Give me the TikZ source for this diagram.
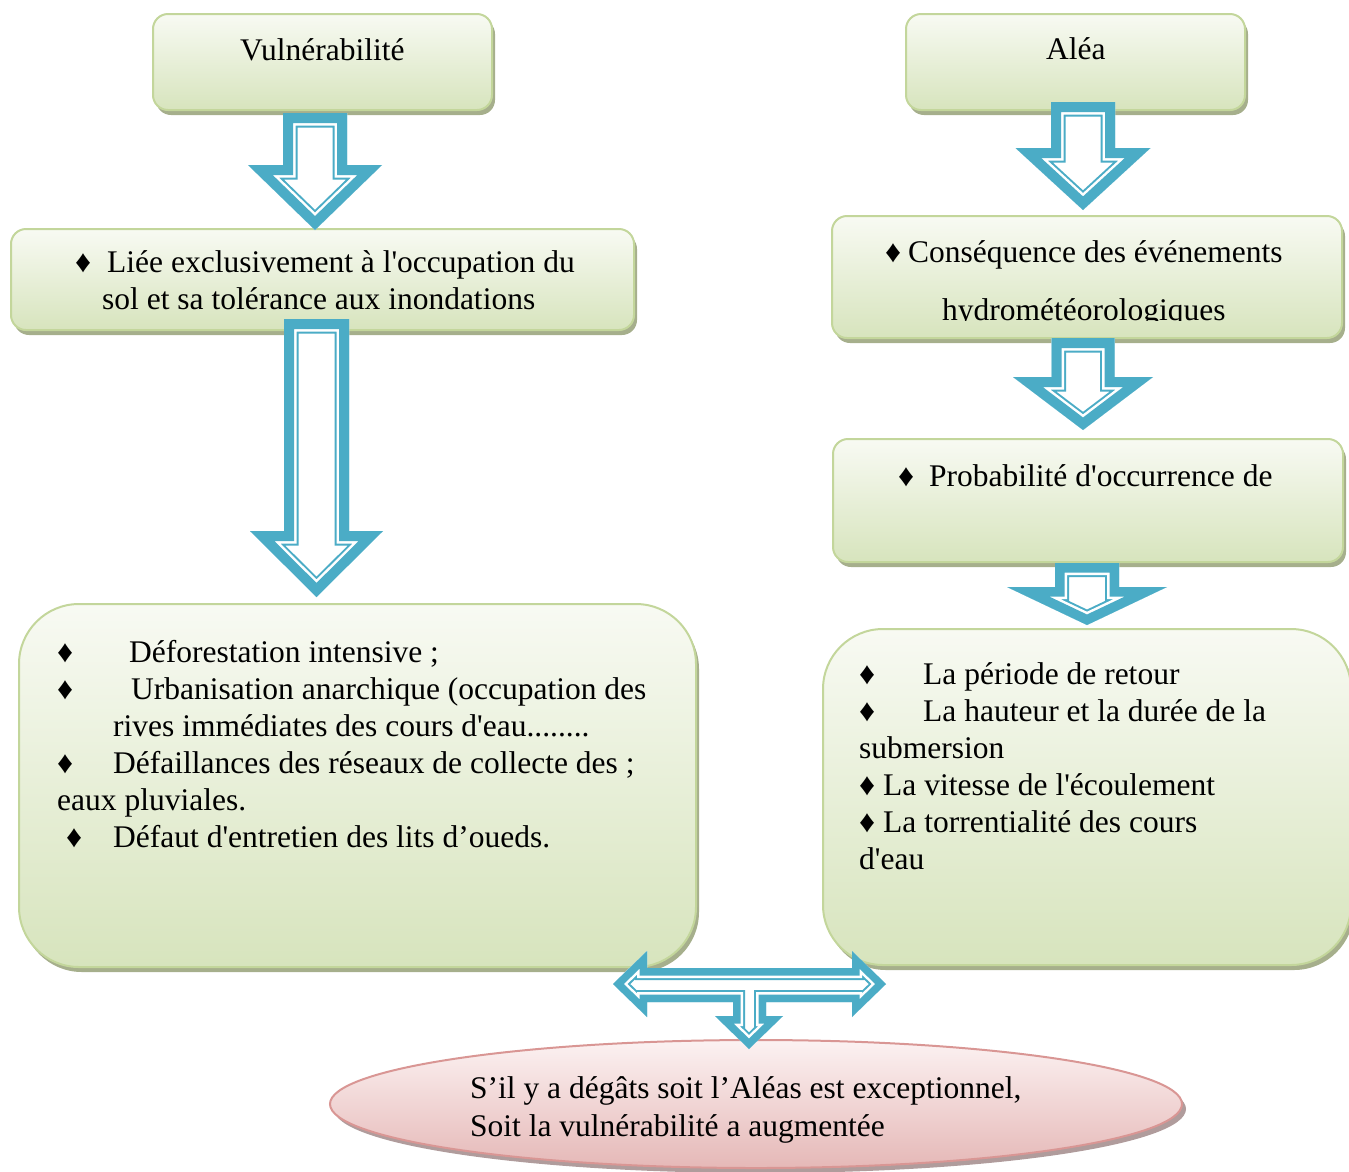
\documentclass[tikz,border=0pt]{standalone}
\usepackage{fontspec}
\setmainfont{Liberation Serif}[Ligatures=TeXOff]
\usetikzlibrary{shapes.geometric,shadows}
\definecolor{arrowc}{HTML}{4BACC6}
\definecolor{gborder}{HTML}{C3D69B}
\definecolor{gtop}{HTML}{F8FAF3}
\definecolor{gbot}{HTML}{D7E4BD}
\definecolor{gshad}{HTML}{A6AF8C}
\definecolor{ptop}{HTML}{FCF2F2}
\definecolor{pbot}{HTML}{E5B8B7}
\definecolor{pborder}{HTML}{D99694}
\definecolor{pshad}{HTML}{B09C9C}

\newcommand\hollowshape[2]{%
 \begin{scope}
 \clip #2;
 \fill[white] #2;
 \draw[arrowc, line join=miter, line width={2*(#1+4.5)}] #2;
 \draw[white, line join=miter, line width={2*(#1+2.5)}] #2;
 \draw[arrowc, line join=miter, line width={2*#1}] #2;
 \end{scope}}
% centre x, shaft half width, top, head base, head half width, tip, band
\newcommand\hdarrow[7]{\hollowshape{#7}{({#1-#2},#3) -- ({#1+#2},#3) -- ({#1+#2},#4) -- ({#1+#5},#4) -- (#1,#6) -- ({#1-#5},#4) -- ({#1-#2},#4) -- cycle}}

\tikzset{
 gbox/.style={draw=gborder, line width=2pt, top color=gtop, bottom color=gbot,
   rounded corners=#1, inner sep=0pt,
   drop shadow={shadow xshift=3pt, shadow yshift=-5pt, fill=gshad, opacity=1}},
 gbox/.default=15pt,
 pell/.style={ellipse, draw=pborder, line width=2pt, top color=ptop, bottom color=pbot, inner sep=0pt,
   drop shadow={shadow xshift=4pt, shadow yshift=-5pt, fill=pshad, opacity=1}},
 txt/.style={font=\fontsize{31.5}{37}\selectfont, inner sep=0pt, anchor=base west},
}

\begin{document}
\begin{tikzpicture}[x=1pt,y=-1pt]
\useasboundingbox (0,0) rectangle (1349,1171);

% boxes
\node[gbox, minimum width=339pt, minimum height=96pt] (vul) at (322.5,62) {};
\node[gbox, minimum width=339pt, minimum height=96pt] (alea) at (1075.5,62) {};
\node[gbox, minimum width=623pt, minimum height=101pt] (lie) at (322.5,279.5) {};
\node[gbox, minimum width=510pt, minimum height=122pt] (cons) at (1087,277) {};
\node[gbox, minimum width=510pt, minimum height=123pt] (prob) at (1088,500.5) {};
\node[gbox=60pt, minimum width=677pt, minimum height=363pt] (left) at (357.5,785.5) {};
\node[gbox=60pt, minimum width=528pt, minimum height=336pt] (right) at (1087,797) {};
\node[pell, minimum width=852pt, minimum height=128pt] (res) at (756,1104) {};

% block arrows
\hdarrow{315}{32}{113}{165}{67}{230}{10}
\hdarrow{316.5}{32.5}{319}{531}{66.5}{597}{10}
\hdarrow{1083}{32}{102}{148}{67.5}{210}{10}
\hdarrow{1083}{31.5}{338}{377}{70}{430}{10}
\hdarrow{1087}{32}{563}{587}{80}{625}{9.5}
\hollowshape{7.5}{(613,984) -- (647,951) -- (647,968) -- (852,968) -- (852,951) -- (886,984)
  -- (852,1017) -- (852,1002) -- (766,1002) -- (766,1016) -- (783,1016) -- (749,1049)
  -- (715,1016) -- (733,1016) -- (733,1002) -- (647,1002) -- (647,1017) -- cycle}

% texts
\node[txt] (tv) at (240,60) {Vulnérabilité};
\node[txt] (ta) at (1046,59) {Aléa};

\node[txt] (b1) at (75,272) {♦};
\node[txt] (l1) at (107,272) {Liée exclusivement à l'occupation du};
\node[txt] (l2) at (102,309) {sol et sa tolérance aux inondations};

\node[txt] (b2) at (885,262) {♦};
\node[txt] (c1) at (908,262) {Conséquence des événements};
\begin{scope}
\clip (832,216) rectangle (1342,320);
\node[txt] (c2) at (942,320) {hydrométéorologiques};
\end{scope}

\node[txt] (b3) at (898,486) {♦};
\node[txt] (p1) at (929,486) {Probabilité d'occurrence de};

\node[txt] (b4) at (57,662) {♦};
\node[txt] (d1) at (129,662) {Déforestation intensive ;};
\node[txt] (b5) at (57,699) {♦};
\node[txt] (d2) at (131,699) {Urbanisation anarchique (occupation des};
\node[txt] (d3) at (113,736) {rives immédiates des cours d'eau........};
\node[txt] (b6) at (57,773) {♦};
\node[txt] (d4) at (113,773) {Défaillances des réseaux de collecte des ;};
\node[txt] (d5) at (57,810) {eaux pluviales.};
\node[txt] (b7) at (66,847) {♦};
\node[txt] (d6) at (113,847) {Défaut d'entretien des lits d’oueds.};

\node[txt] (b8) at (859,684) {♦};
\node[txt] (r1) at (923,684) {La période de retour};
\node[txt] (b9) at (859,721) {♦};
\node[txt] (r2) at (923,721) {La hauteur et la durée de la};
\node[txt] (r3) at (859,758) {submersion};
\node[txt] (b10) at (859,795) {♦};
\node[txt] (r4) at (883,795) {La vitesse de l'écoulement};
\node[txt] (b11) at (859,832) {♦};
\node[txt] (r5) at (883,832) {La torrentialité des cours};
\node[txt] (r6) at (859,869) {d'eau};

\node[txt] (e1) at (470,1098) {S’il y a dégâts soit l’Aléas est exceptionnel,};
\node[txt] (e2) at (470,1136) {Soit la vulnérabilité a augmentée};
\end{tikzpicture}
\end{document}
